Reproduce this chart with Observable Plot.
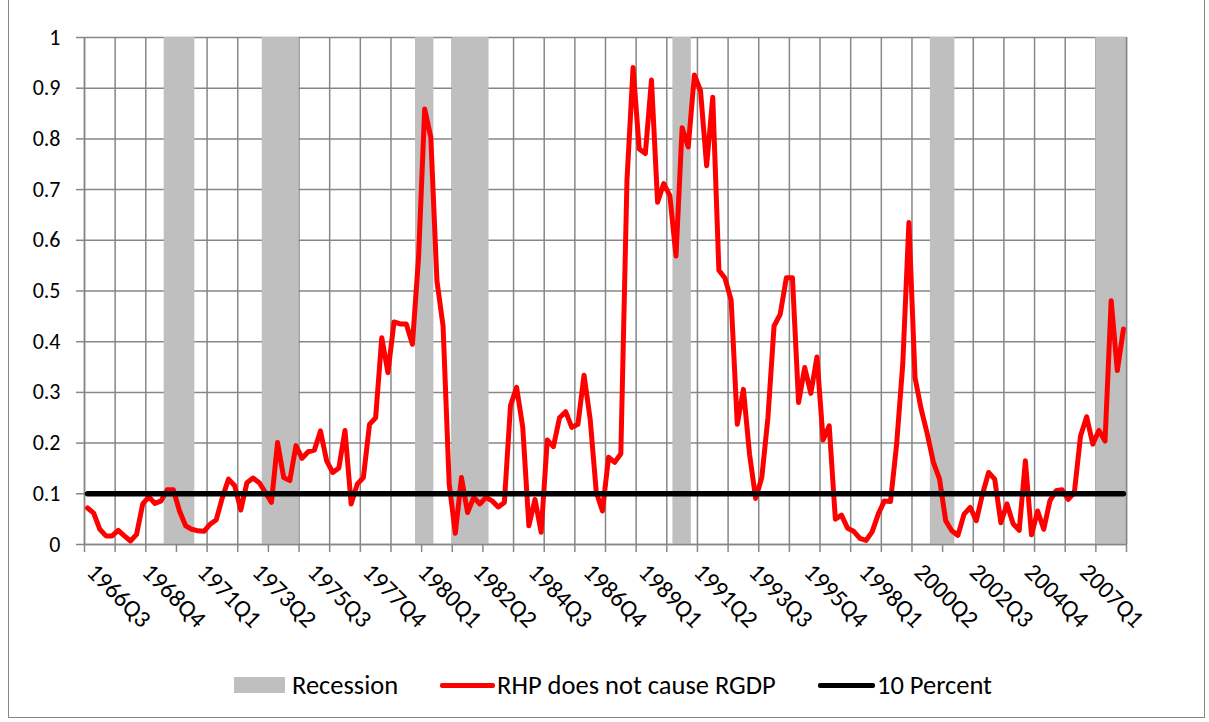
<!DOCTYPE html>
<html>
<head>
<meta charset="utf-8">
<script src="https://cdn.jsdelivr.net/npm/d3@7"></script>
<script src="https://cdn.jsdelivr.net/npm/@observablehq/plot@0.6"></script>
<style>
  html, body { margin: 0; padding: 0; background: #fff; }
  body { width: 1209px; height: 722px; position: relative; overflow: hidden;
         font-family: Calibri, Carlito, Lato, "Liberation Sans", sans-serif; }
  #frame { position: absolute; left: 8px; top: -2px; width: 1197px; height: 720px;
           border: 1px solid #868686; box-sizing: border-box; }
  #chart { position: absolute; left: 0; top: 0; }
  .lg { position: absolute; }
  .lgt { position: absolute; top: 670px; height: 30px; line-height: 30px; font-size: 26.5px; color: #000; white-space: nowrap; }
</style>
</head>
<body>
<div id="frame"></div>
<div id="chart"></div>
<div class="lg" style="left:234px;top:677px;width:51px;height:16px;background:#BFBFBF"></div>
<div class="lgt" style="left:292px">Recession</div>
<div class="lg" style="left:440px;top:683px;width:55px;height:5px;background:#FF0000;border-radius:2px"></div>
<div class="lgt" style="left:497px">RHP does not cause RGDP</div>
<div class="lg" style="left:818px;top:683px;width:57px;height:5px;background:#000;border-radius:2px"></div>
<div class="lgt" style="left:877px">10 Percent</div>
<script>
// ---- categories (quarters 1966Q3 .. 2008Q4) ----
const firstQuarter = "1966Q3";
const lastQuarter = "2008Q4";
const allQuarters = [];
for (let y = 1966; y <= 2008; y++) for (let q = 1; q <= 4; q++) allQuarters.push(`${y}Q${q}`);
const quarters = allQuarters.slice(allQuarters.indexOf(firstQuarter), allQuarters.indexOf(lastQuarter) + 1);

// ---- series: p-value "RHP does not cause RGDP" ----
const rhp = [
  0.072, 0.062, 0.030, 0.017, 0.017, 0.028, 0.017, 0.007, 0.020, 0.080,
  0.094, 0.081, 0.086, 0.108, 0.108, 0.066, 0.037, 0.030, 0.027, 0.026,
  0.040, 0.049, 0.093, 0.129, 0.116, 0.068, 0.122, 0.131, 0.122, 0.103,
  0.083, 0.201, 0.132, 0.126, 0.195, 0.170, 0.183, 0.186, 0.224, 0.165,
  0.142, 0.151, 0.225, 0.080, 0.119, 0.132, 0.237, 0.250, 0.408, 0.339,
  0.439, 0.435, 0.435, 0.395, 0.566, 0.859, 0.803, 0.520, 0.431, 0.119,
  0.022, 0.132, 0.063, 0.093, 0.080, 0.093, 0.086, 0.074, 0.083, 0.274,
  0.310, 0.231, 0.037, 0.089, 0.024, 0.206, 0.193, 0.250, 0.262, 0.231,
  0.237, 0.334, 0.247, 0.103, 0.066, 0.172, 0.162, 0.179, 0.717, 0.941,
  0.780, 0.771, 0.916, 0.675, 0.712, 0.688, 0.569, 0.822, 0.784, 0.926,
  0.895, 0.747, 0.882, 0.541, 0.525, 0.482, 0.237, 0.306, 0.178, 0.091,
  0.132, 0.250, 0.431, 0.454, 0.526, 0.526, 0.280, 0.349, 0.298, 0.370,
  0.206, 0.234, 0.050, 0.058, 0.032, 0.026, 0.012, 0.008, 0.025, 0.060,
  0.086, 0.085, 0.198, 0.356, 0.635, 0.329, 0.267, 0.218, 0.162, 0.129,
  0.047, 0.027, 0.018, 0.060, 0.073, 0.047, 0.099, 0.142, 0.129, 0.043,
  0.080, 0.041, 0.028, 0.165, 0.019, 0.066, 0.030, 0.086, 0.106, 0.108,
  0.089, 0.103, 0.214, 0.252, 0.198, 0.225, 0.204, 0.481, 0.343, 0.425
];
const tenPercent = 0.1;

// ---- recession periods (first and last quarter) ----
const recessions = [
  ["1969Q4", "1970Q4"],
  ["1973Q4", "1975Q1"],
  ["1980Q1", "1980Q3"],
  ["1981Q3", "1982Q4"],
  ["1990Q3", "1991Q1"],
  ["2001Q1", "2001Q4"],
  ["2007Q4", "2008Q4"]
];

// ---- axis labels ----
const xTickLabels = ["1966Q3","1968Q4","1971Q1","1973Q2","1975Q3","1977Q4","1980Q1","1982Q2","1984Q3",
  "1986Q4","1989Q1","1991Q2","1993Q3","1995Q4","1998Q1","2000Q2","2002Q3","2004Q4","2007Q1"];
const yTicks = [0, 0.1, 0.2, 0.3, 0.4, 0.5, 0.6, 0.7, 0.8, 0.9, 1];
const gridEvery = 5; // categories between vertical gridlines

const idx = q => quarters.indexOf(q);
const rows = quarters.map((q, i) => ({ i, q, rhp: rhp[i], ten: tenPercent }));
const vGrid = d3.range(0, quarters.length + 1, gridEvery).map(k => k - 0.5);

const gridColor = "#878787";
const font = "Calibri, Carlito, Lato, 'Liberation Sans', sans-serif";

const chart = Plot.plot({
  width: 1209,
  height: 650,
  marginLeft: 84,
  marginRight: 83,
  marginTop: 37,
  marginBottom: 106,
  style: { fontFamily: font, background: "transparent", overflow: "visible" },
  x: { type: "linear", domain: [-0.5, quarters.length - 0.5], axis: null, label: null },
  y: { domain: [0, 1], axis: null, label: null },
  marks: [
    Plot.ruleY(yTicks, { stroke: gridColor, strokeWidth: 1.5 }),
    Plot.ruleX(vGrid, { stroke: gridColor, strokeWidth: 1.5 }),
    Plot.rect(recessions, { x1: d => idx(d[0]) - 0.5, x2: d => idx(d[1]) + 0.5, fill: "#BFBFBF" }),
    Plot.ruleX([vGrid[0], vGrid[vGrid.length - 1]], { stroke: gridColor, strokeWidth: 1.5 }),
    Plot.ruleY([0], { stroke: gridColor, strokeWidth: 1.5 }),
    Plot.axisX({ ticks: vGrid, tickSize: 8, tickFormat: () => "", label: null, stroke: gridColor, strokeWidth: 1.5 }),
    Plot.axisY({ ticks: yTicks, tickSize: 8, tickPadding: 16, tickFormat: d => String(d), label: null,
                 stroke: gridColor, strokeWidth: 1.5, fill: "black", fontSize: 22 }),
    Plot.text(xTickLabels, { x: d => idx(d), text: d => d, frameAnchor: "bottom", rotate: 45,
                 textAnchor: "start", dy: 29, dx: -2, fontSize: 24.5, fill: "black" }),
    Plot.line(rows, { x: "i", y: "rhp", stroke: "#FF0000", strokeWidth: 5,
                 strokeLinejoin: "round", strokeLinecap: "round" }),
    Plot.line(rows, { x: "i", y: "ten", stroke: "#000000", strokeWidth: 5.5, strokeLinecap: "round" })
  ]
});
document.getElementById("chart").appendChild(chart);
</script>
</body>
</html>
